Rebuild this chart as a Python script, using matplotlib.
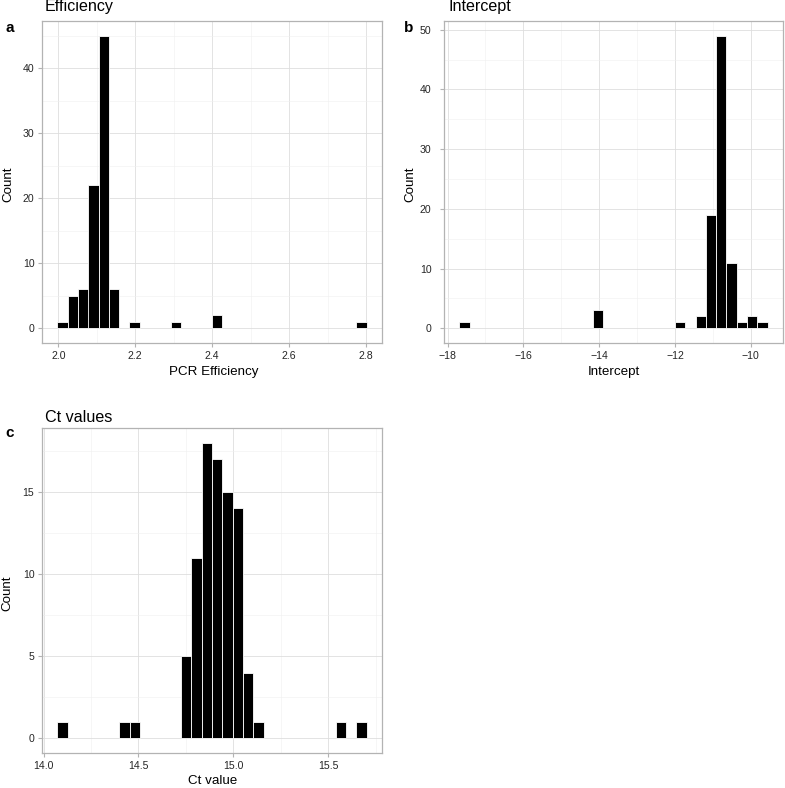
import matplotlib
matplotlib.use("Agg")
import matplotlib.pyplot as plt
import numpy as np
from matplotlib.ticker import MultipleLocator

plt.rcParams['font.family'] = ['Liberation Sans', 'DejaVu Sans']

# panel a: PCR efficiency histogram (non-empty bins only)
eff_centers = [2.011, 2.038, 2.065, 2.091, 2.118, 2.145, 2.198, 2.306, 2.413, 2.788]
eff_counts = [1, 5, 6, 22, 45, 6, 1, 1, 2, 1]
eff_width = 0.0268

# panel b: intercept histogram
int_centers = [-17.553, -14.029, -11.860, -11.317, -11.046, -10.775, -10.504, -10.233, -9.961, -9.690]
int_counts = [1, 3, 1, 2, 19, 49, 11, 1, 2, 1]
int_width = 0.2711

# panel c: Ct values histogram
ct_centers = [14.100, 14.426, 14.480, 14.752, 14.806, 14.860, 14.915, 14.969, 15.023, 15.078, 15.132, 15.566, 15.675]
ct_counts = [1, 1, 1, 5, 11, 18, 17, 15, 14, 4, 1, 1, 1]
ct_width = 0.0543

W, H = 785, 788
fig = plt.figure(figsize=(W / 100, H / 100), dpi=100)


def px_axes(l, t, r, b):
    return fig.add_axes([l / W, 1 - b / H, (r - l) / W, (b - t) / H])


def ftext(x, y, s, **kw):
    # place text by pixel coordinates measured from the top-left corner
    return fig.text(x / W, 1 - y / H, s, **kw)


def style(ax, xmaj, xmin, ymaj, ymin):
    ax.set_facecolor('white')
    for s in ax.spines.values():
        s.set_color('#b3b3b3')
        s.set_linewidth(0.9)
    ax.xaxis.set_major_locator(MultipleLocator(xmaj))
    ax.xaxis.set_minor_locator(MultipleLocator(xmin))
    ax.yaxis.set_major_locator(MultipleLocator(ymaj))
    ax.yaxis.set_minor_locator(MultipleLocator(ymin))
    ax.grid(which='major', color='#dedede', linewidth=0.6)
    ax.grid(which='minor', color='#efefef', linewidth=0.4)
    ax.set_axisbelow(True)
    ax.tick_params(which='major', length=3, color='#b3b3b3', labelsize=7.6,
                   labelcolor='#262626', pad=2.5)
    ax.tick_params(which='minor', length=0)
    ax.use_sticky_edges = False
    ax.margins(0.05)


def hist(ax, centers, counts, width):
    ax.bar(centers, counts, width=width, color='black', edgecolor='white', linewidth=0.6)


ax_a = px_axes(42, 21, 382, 343)
hist(ax_a, eff_centers, eff_counts, eff_width)
style(ax_a, 0.2, 0.1, 10, 5)

ax_b = px_axes(444, 21, 783, 343)
hist(ax_b, int_centers, int_counts, int_width)
style(ax_b, 2, 1, 10, 5)
ax_b.tick_params(axis='y', pad=6)

ax_c = px_axes(42, 428, 382, 753)
hist(ax_c, ct_centers, ct_counts, ct_width)
style(ax_c, 0.5, 0.25, 5, 2.5)
ax_c.xaxis.set_major_formatter(plt.FormatStrFormatter('%.1f'))

# axis labels
lab = dict(fontsize=9.6, ha='center', va='center')
ftext(214, 372, 'PCR Efficiency', **lab)
ftext(614, 372, 'Intercept', **lab)
ftext(213, 781, 'Ct value', **lab)
ftext(8, 184, 'Count', rotation=90, **lab)
ftext(410, 184, 'Count', rotation=90, **lab)
ftext(7, 593, 'Count', rotation=90, **lab)

# titles and panel letters
for x, y, t in [(45, 11.5, 'Efficiency'), (448, 11.5, 'Intercept'), (45, 421.5, 'Ct values')]:
    ftext(x, y, t, fontsize=11.6, ha='left', va='baseline')
for x, y, t in [(10, 31.5, 'a'), (409, 31.5, 'b'), (10, 437, 'c')]:
    ftext(x, y, t, fontsize=11, fontweight='bold', ha='center', va='baseline')

fig.savefig('out.png', dpi=100, facecolor='white')
